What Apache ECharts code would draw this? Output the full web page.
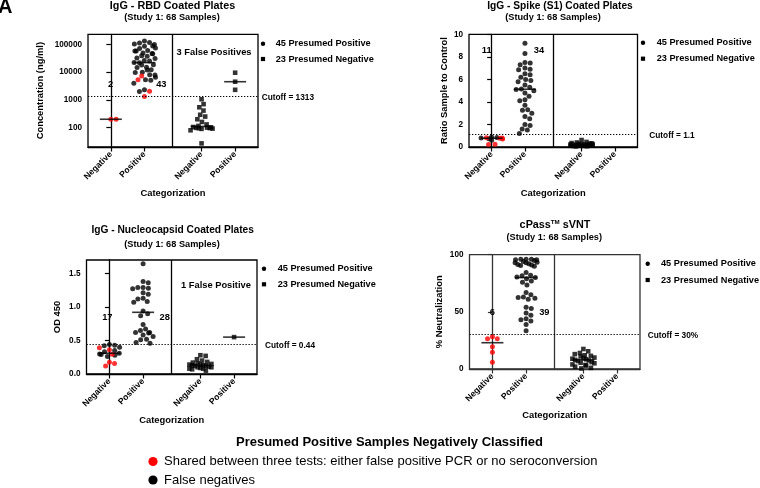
<!DOCTYPE html>
<html><head><meta charset="utf-8">
<script src="https://cdn.jsdelivr.net/npm/echarts@6/dist/echarts.min.js"></script>
<style>html,body{margin:0;padding:0;background:#fff}#c{width:760px;height:488px}</style>
</head><body><div id="c"></div>
<script>
// ---------- DATA ----------
const categories = ['Negative', 'Positive', 'Negative', 'Positive'];
const seriesNames = ['45 Presumed Positive', '23 Presumed Negative'];

// Panel 1: IgG - RBD (ng/ml)
const rbdPresPosNegBlack = [];
const rbdPresPosNegRed = [200, 200];
const rbdPresPosPosBlack = [132000, 116000, 112000, 102000, 98000, 88000, 85000, 74000, 71000, 60000, 58000, 57000, 49000, 47000, 46000, 38500, 37500, 32000, 31000, 26000, 25000, 22000, 21500, 18500, 18000, 15000, 14500, 12200, 11800, 9900, 9600, 8000, 7800, 6500, 5300, 5100, 4000, 2300, 2000];
const rbdPresPosPosRed = [7200, 5250, 2040, 1320];
const rbdPresNegNeg = [1050, 700, 540, 410, 290, 250, 200, 160, 130, 115, 105, 102, 100, 98, 96, 95, 92, 90, 80, 27];
const rbdPresNegPos = [9500, 4500, 2300];
const rbdCutoff = 1313;
const rbdTicks = [100, 1000, 10000, 100000];

// Panel 2: IgG - Spike (S1)
const spPresPosNegBlack = [0.88, 0.84, 0.80, 0.74, 0.60];
const spPresPosNegRed = [0.82, 0.80, 0.78, 0.70, 0.24, 0.22];
const spPresPosPosBlack = [9.2, 8.3, 7.5, 7.45, 7.3, 7.0, 6.9, 6.85, 6.5, 6.4, 6.2, 6.0, 5.9, 5.8, 5.5, 5.3, 5.15, 5.1, 5.0, 4.8, 4.5, 4.2, 4.1, 3.7, 3.3, 3.25, 3.0, 2.7, 2.5, 2.0, 1.9, 1.6, 1.5, 1.2];
const spPresPosPosRed = [];
const spPresNegNeg = [0.62, 0.45, 0.40, 0.35, 0.32, 0.30, 0.28, 0.26, 0.25, 0.23, 0.22, 0.20, 0.20, 0.18, 0.17, 0.15, 0.14, 0.12, 0.11, 0.10, 0.09, 0.07, 0.05];
const spPresNegPos = [];
const spCutoff = 1.1;
const spTicks = [0, 2, 4, 6, 8, 10];

// Panel 3: IgG - Nucleocapsid (OD 450)
const ncPresPosNegBlack = [0.44, 0.43, 0.42, 0.40, 0.35, 0.33, 0.31, 0.30, 0.29, 0.28, 0.26];
const ncPresPosNegRed = [0.39, 0.36, 0.295, 0.175, 0.155, 0.12];
const ncPresPosPosBlack = [1.645, 1.38, 1.36, 1.29, 1.29, 1.28, 1.27, 1.21, 1.19, 1.13, 1.12, 1.08, 1.07, 0.94, 0.90, 0.87, 0.74, 0.67, 0.65, 0.62, 0.62, 0.61, 0.58, 0.56, 0.52, 0.51, 0.47, 0.46];
const ncPresPosPosRed = [];
const ncPresNegNeg = [0.28, 0.27, 0.22, 0.20, 0.18, 0.17, 0.16, 0.15, 0.14, 0.14, 0.13, 0.13, 0.12, 0.12, 0.11, 0.10, 0.10, 0.09, 0.08, 0.08, 0.07, 0.05];
const ncPresNegPos = [0.55];
const ncCutoff = 0.44;
const ncTicks = [0, 0.5, 1.0, 1.5];

// Panel 4: cPass sVNT (% Neutralization)
const cpPresPosNegBlack = [];
const cpPresPosNegRed = [28.3, 26.5, 26.5, 19.5, 14.6, 5.8];
const cpPresPosPosBlack = [96, 96, 96, 95.5, 95.5, 95, 94, 93.5, 93, 93, 92, 91.5, 91, 90.5, 90, 84.5, 82, 81.5, 80.5, 80, 79, 77, 76, 73.5, 67, 65, 63, 62.5, 62, 61, 54, 53, 49, 47, 44, 43, 42, 39, 33.5];
const cpPresPosPosRed = [];
const cpPresNegNeg = [17.5, 15.5, 14, 13, 12, 11.5, 11, 10, 9.5, 9, 8.5, 8, 7.5, 7, 6, 5.5, 5, 4, 3.5, 3, 2, 1, 0.5];
const cpPresNegPos = [];
const cpCutoff = 30;
const cpTicks = [0, 50, 100];

// ---------- LAYOUT / STYLE ----------
const FF = "'Liberation Sans', Arial, Helvetica, sans-serif";
const catX = [0, 1, 2.7, 3.7];
const dividerX = 1.84;
const xMin = -0.68, xMax = 4.38;

const panels = [
  { grid: {left: 88, top: 34.3, width: 170, height: 112.7}, yType: 'log', yMin: 20, yMax: 230000, ticks: rbdTicks, fmt: v => String(Math.round(v)),
    yName: 'Concentration (ng/ml)', yGap: 43, cutoff: rbdCutoff, border: '#000',
    ppNegB: rbdPresPosNegBlack, ppNegR: rbdPresPosNegRed, ppPosB: rbdPresPosPosBlack, ppPosR: rbdPresPosPosRed, pnNeg: rbdPresNegNeg, pnPos: rbdPresNegPos },
  { grid: {left: 469, top: 34.3, width: 168.5, height: 112.7}, yType: 'value', yMin: 0, yMax: 10, ticks: spTicks, fmt: v => String(v),
    yName: 'Ratio Sample to Control', yGap: 20, cutoff: spCutoff, border: '#000',
    ppNegB: spPresPosNegBlack, ppNegR: spPresPosNegRed, ppPosB: spPresPosPosBlack, ppPosR: spPresPosPosRed, pnNeg: spPresNegNeg, pnPos: spPresNegPos },
  { grid: {left: 86.5, top: 260, width: 170.5, height: 114}, yType: 'value', yMin: 0, yMax: 1.7, ticks: ncTicks, fmt: v => Number(v).toFixed(1),
    yName: 'OD 450', yGap: 25, cutoff: ncCutoff, border: '#000',
    ppNegB: ncPresPosNegBlack, ppNegR: ncPresPosNegRed, ppPosB: ncPresPosPosBlack, ppPosR: ncPresPosPosRed, pnNeg: ncPresNegNeg, pnPos: ncPresNegPos },
  { grid: {left: 469.5, top: 254.7, width: 170.5, height: 114.3}, yType: 'value', yMin: 0, yMax: 100, ticks: cpTicks, fmt: v => String(v),
    yName: '% Neutralization', yGap: 26, cutoff: cpCutoff, border: '#333',
    ppNegB: cpPresPosNegBlack, ppNegR: cpPresPosNegRed, ppPosB: cpPresPosPosBlack, ppPosR: cpPresPosPosRed, pnNeg: cpPresNegNeg, pnPos: cpPresNegPos }
];

function median(a) {
  const s = a.slice().sort((x, y) => x - y);
  const n = s.length;
  return n % 2 ? s[(n - 1) / 2] : (s[n / 2 - 1] + s[n / 2]) / 2;
}
function nearestCat(v) {
  let best = 0;
  catX.forEach((c, i) => { if (Math.abs(c - v) < Math.abs(catX[best] - v)) best = i; });
  return categories[best];
}

const chart = echarts.init(document.getElementById('c'), null, {renderer: 'canvas'});

const grids = [], xAxes = [], yAxes = [];
panels.forEach((p, i) => {
  grids.push(Object.assign({show: true, borderColor: p.border, borderWidth: 1.3, backgroundColor: 'transparent', outerBoundsMode: 'none'}, p.grid));
  xAxes.push({
    type: 'value', gridIndex: i, min: xMin, max: xMax,
    name: 'Categorization', nameLocation: 'middle', nameGap: 42,
    nameTextStyle: {fontFamily: FF, fontWeight: 'bold', fontSize: 9.4, color: '#000'},
    axisLine: {show: true, lineStyle: {color: p.border, width: 1.3}},
    axisTick: {show: true, customValues: catX, length: 4.5, lineStyle: {color: p.border, width: 1.2}},
    axisLabel: {show: true, customValues: catX, rotate: 45, margin: 6, formatter: v => nearestCat(v),
      fontFamily: FF, fontWeight: 'bold', fontSize: 8.6, color: '#000'},
    splitLine: {show: false}
  });
  yAxes.push({
    type: p.yType, gridIndex: i, min: p.yMin, max: p.yMax, logBase: 10,
    name: p.yName, nameLocation: 'middle', nameGap: p.yGap, nameRotate: 90,
    nameTextStyle: {fontFamily: FF, fontWeight: 'bold', fontSize: 9.4, color: '#000'},
    axisLine: {show: true, lineStyle: {color: p.border, width: 1.3}},
    axisTick: {show: true, customValues: p.ticks, length: 4.5, lineStyle: {color: p.border, width: 1.2}},
    axisLabel: {show: true, customValues: p.ticks, margin: 6, formatter: p.fmt,
      fontFamily: FF, fontWeight: 'bold', fontSize: 8.2, color: '#000'},
    splitLine: {show: false}
  });
});

function buildSeries(offsets) {
  const series = [];
  panels.forEach((p, i) => {
    const groups = [
      {vals: p.ppNegB.concat(p.ppNegR), red: p.ppNegB.map(() => false).concat(p.ppNegR.map(() => true)), cx: catX[0], sq: false},
      {vals: p.ppPosB.concat(p.ppPosR), red: p.ppPosB.map(() => false).concat(p.ppPosR.map(() => true)), cx: catX[1], sq: false},
      {vals: p.pnNeg, red: p.pnNeg.map(() => false), cx: catX[2], sq: true},
      {vals: p.pnPos, red: p.pnPos.map(() => false), cx: catX[3], sq: true}
    ];
    const black = [], red = [], squares = [], meds = [];
    groups.forEach((g, gi) => {
      g.vals.forEach((v, k) => {
        const off = offsets ? offsets[i][gi][k] : 0;
        const pt = [g.cx + off, v];
        if (g.sq) squares.push(pt); else if (g.red[k]) red.push(pt); else black.push(pt);
      });
      if (g.vals.length) meds.push([g.cx, median(g.vals)]);
    });
    const base = {type: 'scatter', xAxisIndex: i, yAxisIndex: i, silent: true, animation: false};
    series.push(Object.assign({}, base, {name: seriesNames[1], symbol: 'rect', symbolSize: 4.6, itemStyle: {color: '#000'}, data: squares}));
    series.push(Object.assign({}, base, {name: seriesNames[0], symbol: 'circle', symbolSize: 5, itemStyle: {color: '#000'}, data: black}));
    series.push(Object.assign({}, base, {name: 'Shared', symbol: 'circle', symbolSize: 5, itemStyle: {color: '#ff0000'}, data: red}));
    series.push(Object.assign({}, base, {name: 'Median', symbol: 'rect', symbolSize: [22, 1.6], itemStyle: {color: '#000'}, data: meds, z: 5,
      markLine: {silent: true, symbol: 'none', animation: false, label: {show: false},
        data: [
          {xAxis: dividerX, lineStyle: {type: 'solid', color: p.border, width: 1.3}},
          {yAxis: p.cutoff, lineStyle: {type: [1.3, 1.7], color: '#000', width: 1}}
        ]}}));
  });
  return series;
}

function txt(text, x, y, size, opts) {
  opts = opts || {};
  return {type: 'text', silent: true, z: 10, style: Object.assign({text, x, y, fontFamily: FF, fontSize: size,
    fontWeight: opts.weight || 'bold', fill: opts.fill || '#000', align: opts.align || 'center', verticalAlign: 'middle'}, opts.extra || {})};
}
function legendItems(xDot, xTxt, y1, y2) {
  return [
    {type: 'circle', silent: true, shape: {cx: xDot, cy: y1, r: 2.2}, style: {fill: '#000'}},
    {type: 'rect', silent: true, shape: {x: xDot - 2.1, y: y2 - 2.1, width: 4.2, height: 4.2}, style: {fill: '#000'}},
    txt(seriesNames[0], xTxt, y1, 9.2, {align: 'left'}),
    txt(seriesNames[1], xTxt, y2, 9.2, {align: 'left'})
  ];
}

const graphics = [
  txt('A', -2, 7, 20, {align: 'left'}),
  // panel 1
  txt('IgG - RBD Coated Plates', 172.5, 6, 10.8),
  txt('(Study 1: 68 Samples)', 172, 17.7, 9.2),
  txt('2', 110.7, 84, 9.3), txt('43', 161.3, 84, 9.3),
  txt('3 False Positives', 214, 52.3, 9.3),
  txt('Cutoff = 1313', 261.7, 97.7, 8.3, {align: 'left'}),
  ...legendItems(263, 275.7, 43.7, 59),
  // panel 2
  txt('IgG - Spike (S1) Coated Plates', 560, 6, 10.2),
  txt('(Study 1: 68 Samples)', 553, 17.5, 9.2),
  txt('11', 486.7, 50, 9.3), txt('34', 539, 50, 9.3),
  txt('Cutoff = 1.1', 649.3, 135.3, 8.3, {align: 'left'}),
  ...legendItems(643, 656.7, 42.7, 58.7),
  // panel 3
  txt('IgG - Nucleocapsid Coated Plates', 172.7, 230, 10.2),
  txt('(Study 1: 68 Samples)', 172, 244, 9.2),
  txt('17', 107.3, 317, 9.3), txt('28', 164.7, 317, 9.3),
  txt('1 False Positive', 216, 285, 9.3),
  txt('Cutoff = 0.44', 265, 345.3, 8.3, {align: 'left'}),
  ...legendItems(264, 277.7, 268.7, 284.3),
  // panel 4
  {type: 'text', silent: true, z: 10, style: {x: 555, y: 225, align: 'center', verticalAlign: 'middle',
    text: '{a|cPass}{s|TM}{a| sVNT}',
    rich: {a: {fontFamily: FF, fontSize: 10.8, fontWeight: 'bold', fill: '#000'},
           s: {fontFamily: FF, fontSize: 6.2, fontWeight: 'bold', fill: '#000', verticalAlign: 'top'}}}},
  txt('(Study 1: 68 Samples)', 554.3, 237.3, 9.2),
  txt('6', 492.3, 312.7, 9.3), txt('39', 544.3, 312.7, 9.3),
  txt('Cutoff = 30%', 647.7, 335.7, 8.3, {align: 'left'}),
  ...legendItems(647.7, 661, 263.7, 280),
  // bottom legend
  txt('Presumed Positive Samples Negatively Classified', 389.5, 442.7, 13),
  {type: 'circle', silent: true, shape: {cx: 153, cy: 461.5, r: 4.6}, style: {fill: '#ff0000'}},
  txt('Shared between three tests: either false positive PCR or no seroconversion', 164, 461.5, 13, {align: 'left', weight: 'normal'}),
  {type: 'circle', silent: true, shape: {cx: 153, cy: 480, r: 4.6}, style: {fill: '#000'}},
  txt('False negatives', 164, 480, 13, {align: 'left', weight: 'normal'})
];

chart.setOption({animation: false, grid: grids, xAxis: xAxes, yAxis: yAxes, series: buildSeries(null), graphic: graphics});

// Beeswarm layout in pixel space, converted back to axis units
function swarm(pys, diam, cap) {
  const order = pys.map((_, i) => i).sort((a, b) => pys[a] - pys[b]);
  const placed = [], xs = new Array(pys.length);
  order.forEach((i, k) => {
    const y = pys[i];
    const cands = [0];
    placed.forEach(p => {
      const dy = Math.abs(p.y - y);
      if (dy < diam) { const dx = Math.sqrt(diam * diam - dy * dy); cands.push(p.x + dx, p.x - dx); }
    });
    cands.sort((a, b) => Math.abs(a) - Math.abs(b));
    let x = null;
    for (const c of cands) {
      if (Math.abs(c) > cap) break;
      if (placed.every(p => (p.x - c) * (p.x - c) + (p.y - y) * (p.y - y) >= diam * diam - 0.01)) { x = c; break; }
    }
    if (x === null) x = ((((k * 5) % 9) - 4) / 4) * cap;
    placed.push({x, y}); xs[i] = x;
  });
  return xs;
}

const offsets = panels.map((p, i) => {
  const pxPerUnit = chart.convertToPixel({xAxisIndex: i}, 1) - chart.convertToPixel({xAxisIndex: i}, 0);
  const groups = [p.ppNegB.concat(p.ppNegR), p.ppPosB.concat(p.ppPosR), p.pnNeg, p.pnPos];
  return groups.map(vals => {
    const pys = vals.map(v => chart.convertToPixel({yAxisIndex: i}, v));
    return swarm(pys, 5.3, 11).map(px => px / pxPerUnit);
  });
});

chart.setOption({series: buildSeries(offsets)});
</script></body></html>
